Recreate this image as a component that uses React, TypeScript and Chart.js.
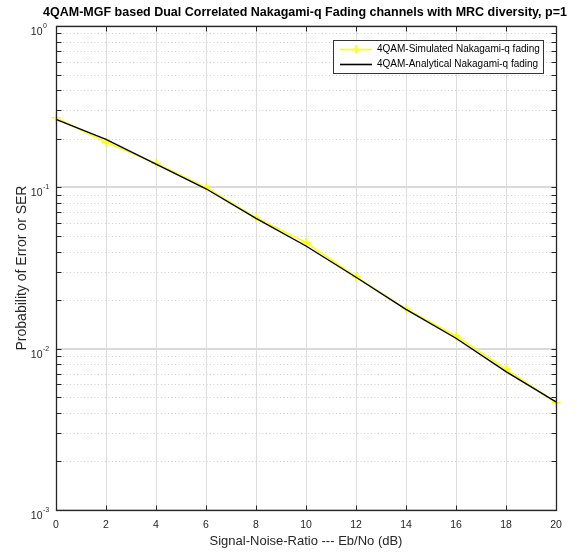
import React, { useEffect, useRef } from "react";
import { Chart, registerables } from "chart.js";

Chart.register(...registerables);

// ---------- data ----------
const snrDb = [0, 2, 4, 6, 8, 10, 12, 14, 16, 18, 20];
const simulatedSer = [0.27, 0.19, 0.141, 0.1, 0.0648, 0.0456, 0.0279, 0.0176, 0.012, 0.00747, 0.00462];
const analyticalSer = [0.264, 0.1985, 0.1395, 0.098, 0.0642, 0.0433, 0.0277, 0.0175, 0.0116, 0.0072, 0.00468];

const xTickValues = [0, 2, 4, 6, 8, 10, 12, 14, 16, 18, 20];
const yDecadeValues = [0.001, 0.01, 0.1, 1];
const yDecadeExponents = ["-3", "-2", "-1", "0"];
const yMinorMultipliers = [2, 3, 4, 5, 6, 7, 8, 9];

const chartTitle = "4QAM-MGF based Dual Correlated Nakagami-q Fading channels with MRC diversity, p=1";
const xAxisTitle = "Signal-Noise-Ratio --- Eb/No (dB)";
const yAxisTitle = "Probability of Error or SER";
const seriesLabels = ["4QAM-Simulated Nakagami-q fading", "4QAM-Analytical Nakagami-q fading"];

const FONT = '"Liberation Sans", Arial, Helvetica, sans-serif';
const AXIS_COLOR = "#262626";

const matlabAxes = {
  id: "matlabAxes",
  beforeDatasetsDraw(chart: any) {
    const { ctx, chartArea: a, scales } = chart;
    const x = scales.x;
    const y = scales.y;
    ctx.save();
    // vertical major grid
    ctx.strokeStyle = "#dedede";
    ctx.lineWidth = 1;
    for (const t of xTickValues) {
      const px = Math.round(x.getPixelForValue(t)) + 0.5;
      ctx.beginPath();
      ctx.moveTo(px, a.top);
      ctx.lineTo(px, a.bottom);
      ctx.stroke();
    }
    // horizontal minor grid (dotted)
    ctx.strokeStyle = "#cfcfcf";
    ctx.setLineDash([1, 2.5]);
    for (let i = 0; i < yDecadeValues.length - 1; i++) {
      for (const m of yMinorMultipliers) {
        const py = Math.round(y.getPixelForValue(yDecadeValues[i] * m)) + 0.5;
        ctx.beginPath();
        ctx.moveTo(a.left, py);
        ctx.lineTo(a.right, py);
        ctx.stroke();
      }
    }
    // horizontal major grid
    ctx.setLineDash([]);
    ctx.strokeStyle = "#dadada";
    ctx.lineWidth = 2;
    for (const v of yDecadeValues) {
      const py = Math.round(y.getPixelForValue(v));
      ctx.beginPath();
      ctx.moveTo(a.left, py);
      ctx.lineTo(a.right, py);
      ctx.stroke();
    }
    ctx.restore();
  },
  afterDatasetsDraw(chart: any) {
    const { ctx, chartArea: a, scales } = chart;
    const x = scales.x;
    const y = scales.y;
    ctx.save();
    // axes box
    const L = Math.round(a.left) + 0.5;
    const R = Math.round(a.right) + 0.5;
    const T = Math.round(a.top) + 0.5;
    const B = Math.round(a.bottom) + 0.5;
    ctx.strokeStyle = AXIS_COLOR;
    ctx.lineWidth = 1.3;
    ctx.strokeRect(L, T, R - L, B - T);
    // x ticks (bottom and top, inward)
    const tl = 5;
    ctx.lineWidth = 1;
    for (const t of xTickValues) {
      const px = Math.round(x.getPixelForValue(t)) + 0.5;
      ctx.beginPath();
      ctx.moveTo(px, B);
      ctx.lineTo(px, B - tl);
      ctx.moveTo(px, T);
      ctx.lineTo(px, T + tl);
      ctx.stroke();
    }
    // y ticks (major + minor, left and right)
    const yTickVals: number[] = [];
    for (let i = 0; i < yDecadeValues.length; i++) {
      yTickVals.push(yDecadeValues[i]);
      if (i < yDecadeValues.length - 1) for (const m of yMinorMultipliers) yTickVals.push(yDecadeValues[i] * m);
    }
    for (const v of yTickVals) {
      const py = Math.round(y.getPixelForValue(v)) + 0.5;
      ctx.beginPath();
      ctx.moveTo(L, py);
      ctx.lineTo(L + tl, py);
      ctx.moveTo(R, py);
      ctx.lineTo(R - tl, py);
      ctx.stroke();
    }
    // y tick labels 10^n
    ctx.fillStyle = AXIS_COLOR;
    yDecadeValues.forEach((v, i) => {
      const py = y.getPixelForValue(v);
      const bx = L - 14;
      ctx.font = `10.5px ${FONT}`;
      ctx.textAlign = "right";
      ctx.textBaseline = "alphabetic";
      ctx.fillText("10", bx, py + 9);
      ctx.font = `7px ${FONT}`;
      ctx.textAlign = "left";
      ctx.fillText(yDecadeExponents[i], bx + 0.5, py + 2);
    });
    // title
    ctx.fillStyle = "#000";
    ctx.font = `bold 12.5px ${FONT}`;
    ctx.textAlign = "center";
    ctx.textBaseline = "alphabetic";
    ctx.fillText(chartTitle, (a.left + a.right) / 2 - 1, 16);
    // legend
    const lx = 333.5, ly = 40.5, lw = 210, lh = 33;
    ctx.fillStyle = "#ffffff";
    ctx.fillRect(lx, ly, lw, lh);
    ctx.strokeStyle = "#333333";
    ctx.lineWidth = 1;
    ctx.strokeRect(lx, ly, lw, lh);
    const rows = [ly + 9, ly + 24];
    const colors = ["#ffff00", "#000000"];
    rows.forEach((ry, i) => {
      ctx.strokeStyle = colors[i];
      ctx.lineWidth = 1.6;
      ctx.beginPath();
      ctx.moveTo(340, ry);
      ctx.lineTo(372, ry);
      ctx.stroke();
      if (i === 0) {
        ctx.beginPath();
        ctx.moveTo(356, ry - 4.5);
        ctx.lineTo(356, ry + 4.5);
        ctx.moveTo(351.5, ry);
        ctx.lineTo(360.5, ry);
        ctx.stroke();
      }
      ctx.fillStyle = "#000";
      ctx.font = `10px ${FONT}`;
      ctx.textAlign = "left";
      ctx.textBaseline = "middle";
      ctx.fillText(seriesLabels[i], 377, ry);
    });
    ctx.restore();
  },
};

export default function App() {
  const canvasRef = useRef<HTMLCanvasElement | null>(null);

  useEffect(() => {
    if (!canvasRef.current) return;
    Chart.defaults.font.family = FONT;
    const chart = new Chart(canvasRef.current, {
      type: "line",
      data: {
        labels: snrDb,
        datasets: [
          {
            label: seriesLabels[0],
            data: snrDb.map((s, i) => ({ x: s, y: simulatedSer[i] })),
            borderColor: "#ffff00",
            backgroundColor: "#ffff00",
            borderWidth: 1.6,
            pointStyle: "cross",
            pointRadius: 4.5,
            pointBorderWidth: 1.6,
            pointBorderColor: "#ffff00",
            tension: 0,
            order: 2,
            clip: 10,
          },
          {
            label: seriesLabels[1],
            data: snrDb.map((s, i) => ({ x: s, y: analyticalSer[i] })),
            borderColor: "#000000",
            backgroundColor: "#000000",
            borderWidth: 1.4,
            pointRadius: 0,
            tension: 0,
            order: 1,
            clip: 10,
          },
        ],
      },
      options: {
        responsive: false,
        animation: false,
        events: [],
        layout: { padding: { top: 26, right: 23, left: 0, bottom: 0 } },
        plugins: {
          legend: { display: false },
          tooltip: { enabled: false },
          title: { display: false },
        },
        scales: {
          x: {
            type: "linear",
            min: 0,
            max: 20,
            grid: { display: false, drawTicks: false, tickLength: 0 },
            border: { display: false },
            ticks: {
              stepSize: 2,
              autoSkip: false,
              maxRotation: 0,
              padding: 8.5,
              color: AXIS_COLOR,
              font: { size: 10.5, family: FONT },
            },
            title: {
              display: true,
              text: xAxisTitle,
              color: AXIS_COLOR,
              font: { size: 13, family: FONT },
              padding: { top: 0, bottom: 6 },
            },
            afterFit: (s: any) => {
              s.height = 45;
            },
          },
          y: {
            type: "logarithmic",
            min: 0.001,
            max: 1,
            grid: { display: false, drawTicks: false, tickLength: 0 },
            border: { display: false },
            ticks: { display: false },
            title: {
              display: true,
              text: yAxisTitle,
              color: AXIS_COLOR,
              font: { size: 14, family: FONT },
              padding: { top: 14, bottom: 0 },
            },
            afterFit: (s: any) => {
              s.width = 56;
            },
          },
        },
      },
      plugins: [matlabAxes],
    } as any);
    return () => chart.destroy();
  }, []);

  return (
    <div style={{ position: "absolute", left: 0, top: 0, width: 579, height: 555, background: "#fff" }}>
      <canvas ref={canvasRef} width={579} height={555} style={{ display: "block" }} />
    </div>
  );
}
